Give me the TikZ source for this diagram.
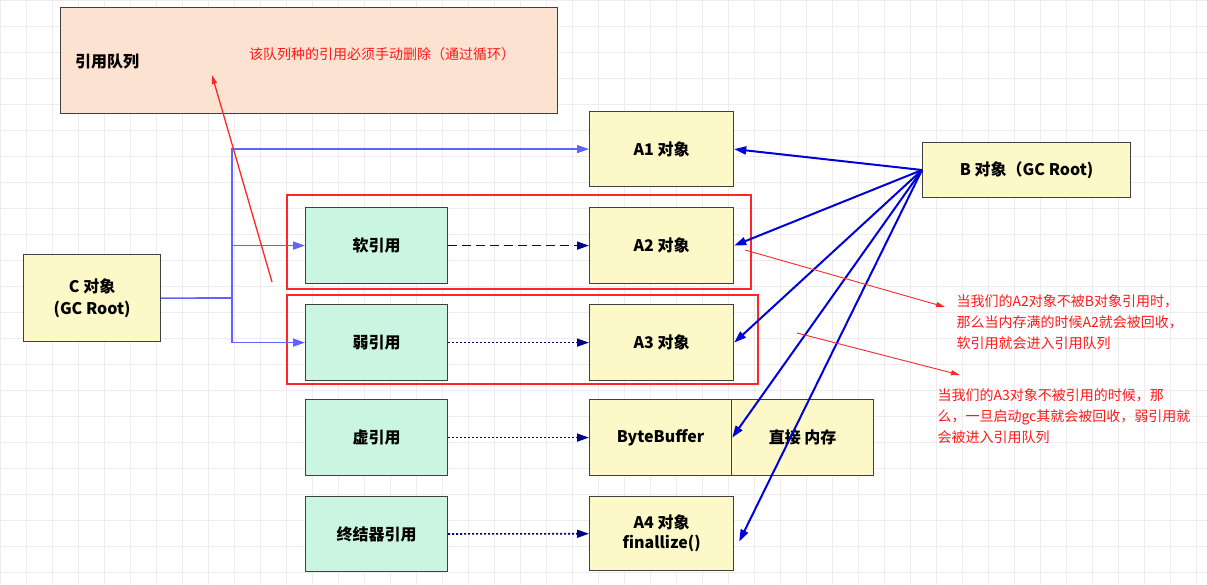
\documentclass[tikz,border=0pt]{standalone}
\usepackage{fontspec}
\setmainfont{Noto Sans CJK SC}
\usetikzlibrary{arrows.meta}
\definecolor{mint}{HTML}{C9F5E1}
\definecolor{pale}{HTML}{FCF8C8}
\definecolor{peach}{HTML}{FCE2D0}
\begin{document}
\begin{tikzpicture}[x=1pt,y=-1pt,
 box/.style={draw=black!75,line width=1.2pt,anchor=north west,align=center,font=\bfseries\fontsize{16}{19}\selectfont},
 obj/.style={box,fill=pale},
 ref/.style={box,fill=mint},
 cl/.style={draw=blue!55!white!85!blue,line width=1.6pt,-{Triangle[length=12pt,width=8pt]}},
 bl/.style={draw=blue!85!black,line width=2pt,-{Triangle[length=12pt,width=8pt]}},
 dl/.style={draw=blue!50!black,line width=1.6pt,-{Triangle[length=12pt,width=8pt]}},
 rl/.style={draw=red!85,line width=0.9pt,-{Triangle[length=9pt,width=5pt]}},
 rt/.style={text=red!90,font=\fontsize{14}{21}\selectfont,align=left,anchor=north west}]
\useasboundingbox[fill=white] (0,0) rectangle (1207,585);
\foreach \i in {0,26,...,1207} \draw[black!7] (\i,0) -- (\i,585);
\foreach \i in {0,26,...,585} \draw[black!7] (0,\i) -- (1207,\i);
\node[box,fill=peach,minimum width=497pt,minimum height=106pt] (q) at (60,7) {};
\node[font=\bfseries\fontsize{16}{19}\selectfont] (ql) at (107,62) {引用队列};
\node[text=red!90,font=\fontsize{14}{17}\selectfont] (qt) at (382,54) {该队列种的引用必须手动删除（通过循环）};
\node[obj,minimum width=144pt,minimum height=75pt] (a1) at (589,111) {A1 对象};
\node[obj,minimum width=144pt,minimum height=76pt] (a2) at (589,207) {A2 对象};
\node[obj,minimum width=144pt,minimum height=76pt] (a3) at (589,304) {A3 对象};
\node[obj,minimum width=142pt,minimum height=76pt] (bb) at (589,399) {ByteBuffer};
\node[obj,minimum width=142pt,minimum height=76pt] (dm) at (731,399) {直接 内存};
\node[obj,minimum width=144pt,minimum height=74pt,font=\bfseries\fontsize{16}{20}\selectfont] (a4) at (589,496) {A4 对象\\finallize()};
\node[obj,minimum width=208pt,minimum height=55pt] (b) at (922,142) {B 对象（GC Root)};
\node[obj,minimum width=137pt,minimum height=87pt,font=\bfseries\fontsize{16}{22}\selectfont] (c) at (23,254) {C 对象\\(GC Root)};
\node[ref,minimum width=142pt,minimum height=76pt] (r1) at (305,207) {软引用};
\node[ref,minimum width=142pt,minimum height=76pt] (r2) at (305,304) {弱引用};
\node[ref,minimum width=142pt,minimum height=76pt] (r3) at (305,399) {虚引用};
\node[ref,minimum width=142pt,minimum height=75pt] (r4) at (305,496) {终结器引用};
\draw[red!85,line width=1.6pt] (287,195) rectangle (751,289);
\draw[red!85,line width=1.6pt] (287,295) rectangle (758,384);
\coordinate (j) at (232,298);
\draw[cl,-] (c.east) -- (j);
\draw[cl] (j) |- (a1.west);
\draw[cl] (j) |- (r1.west);
\draw[cl] (j) |- (r2.west);
\draw[dl,dash pattern=on 9pt off 5pt] (r1) -- (a2);
\draw[dl,dash pattern=on 2pt off 2pt] (r2) -- (a3);
\draw[dl,dash pattern=on 2pt off 2pt] (r3) -- (bb);
\draw[dl,dash pattern=on 2pt off 2pt] (r4) -- (a4);
\coordinate (bo) at (922,170);
\draw[bl] (bo) -- (a1.east);
\draw[bl] (bo) -- (a2.east);
\draw[bl] (bo) -- (a3.east);
\draw[bl] (bo) -- (bb.east);
\draw[bl] (bo) -- ([xshift=5pt,yshift=-8pt]a4.east);
\coordinate (s1) at (272,282); \coordinate (e1) at (212,75);
\draw[rl,line width=1.3pt] (s1) -- (e1);
\coordinate (s2) at (745,250); \coordinate (e2) at (945,307);
\draw[rl] (s2) -- (e2);
\coordinate (s3) at (797,333); \coordinate (e3) at (960,375);
\draw[rl] (s3) -- (e3);
\node[rt] (t1) at (953,291) {当我们的A2对象不被B对象引用时，\\那么当内存满的时候A2就会被回收，\\软引用就会进入引用队列};
\node[rt] (t2) at (934,385) {当我们的A3对象不被引用的时候，那\\么，一旦启动gc其就会被回收，弱引用就\\会被进入引用队列};
\end{tikzpicture}
\end{document}
